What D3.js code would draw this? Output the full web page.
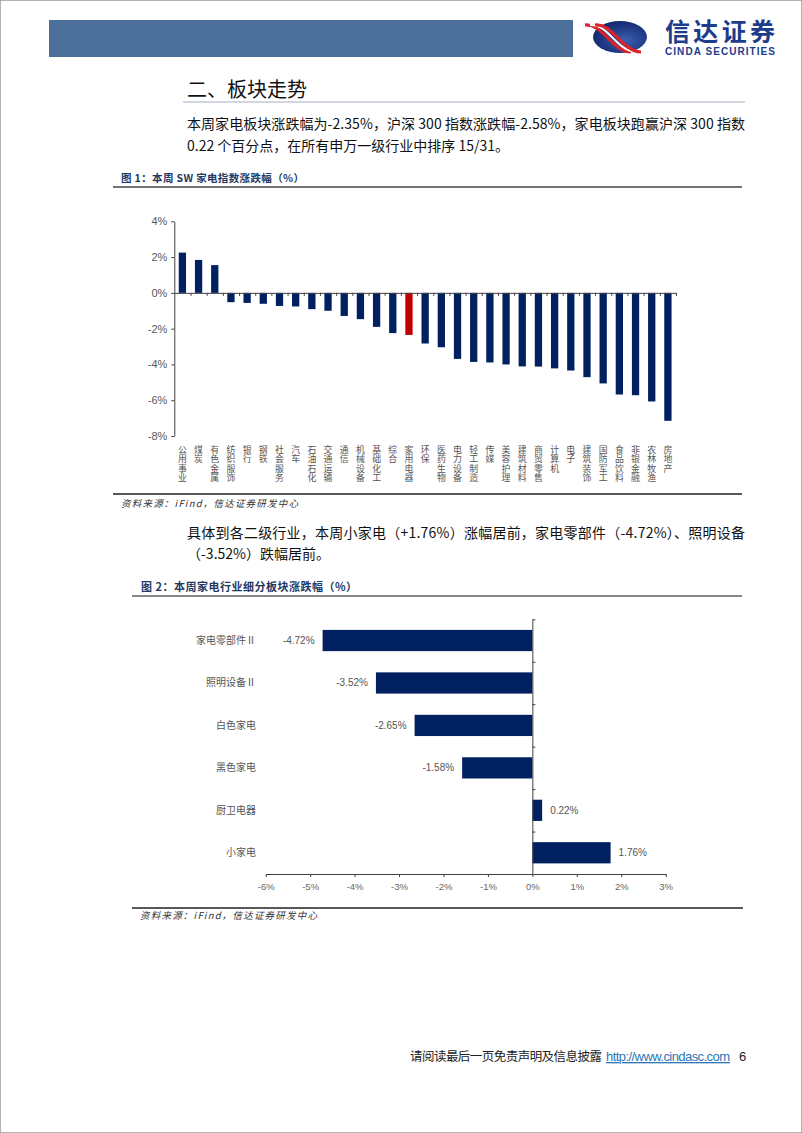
<!DOCTYPE html>
<html>
<head>
<meta charset="utf-8">
<script src="https://cdn.jsdelivr.net/npm/d3@7"></script>
<style>
  body { margin: 0; background: #fff; }
  svg { display: block; font-family: "Noto Sans CJK SC", "Liberation Sans", sans-serif; }
</style>
</head>
<body>
<svg id="page"></svg>
<script>
// chart 1: SW level-1 industries, weekly change (%)
var industries = ["公用事业","煤炭","有色金属","纺织服饰","银行","钢铁","社会服务","汽车","石油石化","交通运输",
  "通信","机械设备","基础化工","综合","家用电器","环保","医药生物","电力设备","轻工制造","传媒",
  "美容护理","建筑材料","商贸零售","计算机","电子","建筑装饰","国防军工","食品饮料","非银金融","农林牧渔","房地产"];
var industryChange = [2.25,1.84,1.55,-0.52,-0.56,-0.61,-0.73,-0.76,-0.91,-1.00,
  -1.29,-1.47,-1.90,-2.25,-2.35,-2.83,-3.04,-3.69,-3.86,-3.89,
  -4.00,-4.11,-4.12,-4.22,-4.34,-4.71,-5.06,-5.68,-5.72,-6.07,-7.15];
var yTicks1 = [4,2,0,-2,-4,-6,-8];
var highlight = "家用电器";

// chart 2: appliance sub-sectors
var subSectors = ["家电零部件Ⅱ","照明设备Ⅱ","白色家电","黑色家电","厨卫电器","小家电"];
var subChange = [-4.72,-3.52,-2.65,-1.58,0.22,1.76];
var xTicks2 = [-6,-5,-4,-3,-2,-1,0,1,2,3];

var W = 802, H = 1133;
var navy = "#002060", red = "#C00000", grey = "#404040";

var svg = d3.select("#page").attr("width", W).attr("height", H);
svg.append("rect").attr("width", W).attr("height", H).attr("fill", "#fff")
  .attr("stroke", "#9a9a9a").attr("stroke-width", 1.5);

// header band + logo
svg.append("rect").attr("x", 49).attr("y", 20).attr("width", 524).attr("height", 37).attr("fill", "#4B6F99");
var defs = svg.append("defs");
var grad = defs.append("radialGradient").attr("id", "lg").attr("cx", "60%").attr("cy", "60%").attr("r", "70%");
grad.append("stop").attr("offset", "0%").attr("stop-color", "#3a5fb0");
grad.append("stop").attr("offset", "100%").attr("stop-color", "#0d1f66");
var logo = svg.append("g").attr("transform", "translate(620,37)");
logo.append("ellipse").attr("rx", 27).attr("ry", 16).attr("fill", "url(#lg)");
[-5, 0, 5].forEach(function(o, i) {
  logo.append("path")
    .attr("d", "M" + (-30 + o) + ",-12 C" + (-12 + o) + ",-14 " + (-4 + o) + ",14 " + (16 + o) + ",15")
    .attr("fill", "none").attr("stroke", i == 1 ? "#fff" : "#d9222a").attr("stroke-width", i == 1 ? 2 : 3.2);
});
svg.append("text").attr("x", 665).attr("y", 41).attr("font-size", 25).attr("font-weight", "bold")
  .attr("fill", "#1d3c8c").attr("textLength", 110).text("信达证券");
svg.append("text").attr("x", 665).attr("y", 55).attr("font-size", 10).attr("font-weight", "bold")
  .attr("fill", "#1d3c8c").attr("font-family", "Liberation Sans").attr("textLength", 110).text("CINDA SECURITIES");

// section heading and paragraph
svg.append("text").attr("x", 187).attr("y", 97).attr("font-size", 20).attr("fill", "#111").text("二、板块走势");
svg.append("line").attr("x1", 183).attr("x2", 745).attr("y1", 102).attr("y2", 102).attr("stroke", "#a6b0c0").attr("stroke-width", 1);

function para(x, y, str, len) {
  var t = svg.append("text").attr("x", x).attr("y", y).attr("font-size", 14).attr("fill", "#111").text(str);
  if (len) t.attr("textLength", len).attr("lengthAdjust", "spacing");
}
para(187, 129, "本周家电板块涨跌幅为-2.35%，沪深 300 指数涨跌幅-2.58%，家电板块跑赢沪深 300 指数", 558);
para(187, 151, "0.22 个百分点，在所有申万一级行业中排序 15/31。");

// figure 1 title
svg.append("text").attr("x", 121).attr("y", 182).attr("font-size", 10.5).attr("font-weight", "bold")
  .attr("fill", "#1F3864").attr("textLength", 183).text("图 1：本周 SW 家电指数涨跌幅（%）");
svg.append("line").attr("x1", 113).attr("x2", 742).attr("y1", 187).attr("y2", 187).attr("stroke", "#444").attr("stroke-width", 1.5);

// ---- chart 1 ----
var x1 = d3.scaleBand().domain(industries).range([174.3, 676]).paddingInner(0.55).paddingOuter(0.275);
var y1 = d3.scaleLinear().domain([-8, 4]).range([436, 221.3]);
var c1 = svg.append("g");

c1.selectAll(".bar1").data(industries).enter().append("rect")
  .attr("class", "bar1")
  .attr("x", function(d) { return x1(d); })
  .attr("width", x1.bandwidth())
  .attr("y", function(d, i) { return y1(Math.max(0, industryChange[i])); })
  .attr("height", function(d, i) { return Math.abs(y1(industryChange[i]) - y1(0)); })
  .attr("fill", function(d) { return d == highlight ? red : navy; });

// category boundary ticks along the zero line
var idx1 = d3.scaleLinear().domain([0, industries.length]).range(x1.range());
var xa1 = c1.append("g").attr("transform", "translate(0," + y1(0) + ")")
  .call(d3.axisBottom(idx1).tickValues(d3.range(1, industries.length + 1)).tickSize(3).tickSizeOuter(0).tickFormat(""));
xa1.selectAll("path,line").attr("stroke", grey);

var ya1 = c1.append("g").attr("transform", "translate(174.3,0)")
  .call(d3.axisLeft(y1).tickValues(yTicks1).tickSize(3).tickSizeOuter(0).tickFormat(function(d) { return d + "%"; }));
ya1.selectAll("path,line").attr("stroke", grey);
ya1.selectAll("text").attr("font-size", 11).attr("fill", "#595959").attr("font-family", "Liberation Sans").attr("x", -7);

// vertical category labels (stacked characters)
c1.selectAll(".lab1").data(industries).enter().append("text")
  .attr("class", "lab1")
  .attr("x", function(d) { return x1(d) + x1.bandwidth() / 2; })
  .attr("y", 445)
  .style("writing-mode", "vertical-rl")
  .style("text-orientation", "upright")
  .attr("letter-spacing", 0.6)
  .attr("font-size", 8.9).attr("fill", "#555")
  .text(function(d) { return d; });

svg.append("line").attr("x1", 113).attr("x2", 742).attr("y1", 494).attr("y2", 494).attr("stroke", "#222").attr("stroke-width", 1.5);
svg.append("text").attr("x", 121).attr("y", 507).attr("font-size", 9.5).attr("font-style", "italic")
  .attr("fill", "#333").attr("textLength", 177).text("资料来源：iFind，信达证券研发中心");

// second paragraph
para(187, 538, "具体到各二级行业，本周小家电（+1.76%）涨幅居前，家电零部件（-4.72%）、照明设备", 558);
para(187, 559, "（-3.52%）跌幅居前。");

svg.append("text").attr("x", 141).attr("y", 591).attr("font-size", 11).attr("font-weight", "bold")
  .attr("fill", "#1F3864").attr("textLength", 216).text("图 2：本周家电行业细分板块涨跌幅（%）");
svg.append("line").attr("x1", 132).attr("x2", 742).attr("y1", 596).attr("y2", 596).attr("stroke", "#888").attr("stroke-width", 2);

// ---- chart 2 ----
var x2 = d3.scaleLinear().domain([-6, 3]).range([265.7, 665.7]);
var y2 = d3.scaleBand().domain(subSectors).range([619.3, 874]).paddingInner(0.5).paddingOuter(0.25);
var c2 = svg.append("g");

c2.selectAll(".bar2").data(subSectors).enter().append("rect")
  .attr("class", "bar2")
  .attr("y", function(d) { return y2(d); })
  .attr("height", y2.bandwidth())
  .attr("x", function(d, i) { return x2(Math.min(0, subChange[i])); })
  .attr("width", function(d, i) { return Math.abs(x2(subChange[i]) - x2(0)); })
  .attr("fill", navy);

c2.selectAll(".val2").data(subSectors).enter().append("text")
  .attr("class", "val2")
  .attr("y", function(d) { return y2(d) + y2.bandwidth() / 2 + 3.5; })
  .attr("x", function(d, i) { var v = subChange[i]; return v < 0 ? x2(v) - 8 : x2(v) + 8; })
  .attr("text-anchor", function(d, i) { return subChange[i] < 0 ? "end" : "start"; })
  .attr("font-size", 10).attr("fill", "#555").attr("font-family", "Liberation Sans")
  .text(function(d, i) { return subChange[i].toFixed(2) + "%"; });

c2.selectAll(".lab2").data(subSectors).enter().append("text")
  .attr("class", "lab2")
  .attr("x", 256).attr("y", function(d) { return y2(d) + y2.bandwidth() / 2 + 3.5; })
  .attr("text-anchor", "end").attr("font-size", 10).attr("fill", "#555")
  .text(function(d) { return d; });

var xa2 = c2.append("g").attr("transform", "translate(0,874)")
  .call(d3.axisBottom(x2).tickValues(xTicks2).tickSize(3).tickSizeOuter(0).tickFormat(function(d) { return d + "%"; }));
xa2.selectAll("path,line").attr("stroke", grey);
xa2.selectAll("text").attr("font-size", 9.5).attr("fill", "#666").attr("font-family", "Liberation Sans").attr("dy", "1em");

var idx2 = d3.scaleLinear().domain([0, subSectors.length]).range(y2.range());
var ya2 = c2.append("g").attr("transform", "translate(" + x2(0) + ",0)")
  .call(d3.axisRight(idx2).tickValues(d3.range(0, subSectors.length)).tickSize(3).tickSizeOuter(0).tickFormat(""));
ya2.selectAll("path,line").attr("stroke", grey);

svg.append("line").attr("x1", 132).attr("x2", 743).attr("y1", 908).attr("y2", 908).attr("stroke", "#222").attr("stroke-width", 1.5);
svg.append("text").attr("x", 140).attr("y", 919).attr("font-size", 9.5).attr("font-style", "italic")
  .attr("fill", "#333").attr("textLength", 177).text("资料来源：iFind，信达证券研发中心");

// footer
svg.append("text").attr("x", 410).attr("y", 1061).attr("font-size", 12.5).attr("fill", "#222").attr("textLength", 192).text("请阅读最后一页免责声明及信息披露");
svg.append("text").attr("x", 606).attr("y", 1061).attr("font-size", 13).attr("fill", "#2E75B6")
  .attr("font-family", "Liberation Sans Narrow, Liberation Sans").attr("text-decoration", "underline").attr("textLength", 124).text("http://www.cindasc.com");
svg.append("text").attr("x", 739).attr("y", 1061).attr("font-size", 13).attr("fill", "#222").attr("font-family", "Liberation Sans").text("6");
</script>
</body>
</html>
